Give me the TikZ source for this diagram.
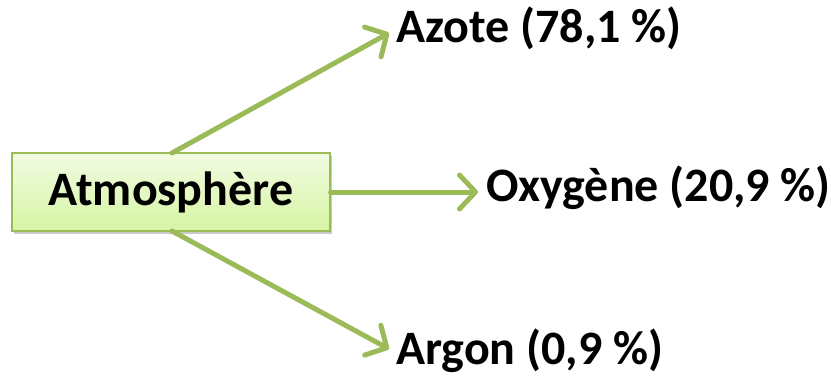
\documentclass[tikz,border=0pt]{standalone}
\usepackage{fontspec}
\setmainfont{Carlito}
\usetikzlibrary{arrows.meta,shadows}
\definecolor{olivegreen}{HTML}{9BBB59}
\definecolor{boxtop}{HTML}{F2FBE3}
\definecolor{boxbot}{HTML}{D5F5A3}
\tikzset{
  lbl/.style={font=\fontsize{48}{52}\selectfont\bfseries, inner sep=0pt, anchor=base west},
  arr/.style={draw=olivegreen, line width=5pt, line cap=round,
    -{Straight Barb[length=16pt,width=34pt,line cap=round,line join=round]}},
}
\begin{document}
\begin{tikzpicture}[x=1pt,y=-1pt]
\useasboundingbox (0,0) rectangle (831,381);
\node[draw=olivegreen, line width=1.2pt, top color=boxtop, bottom color=boxbot,
  minimum width=318pt, minimum height=78pt, inner sep=0pt,
  drop shadow={shadow xshift=2pt, shadow yshift=-3pt, opacity=0.35, fill=black!60}]
  (box) at (171,192) {};
\node[lbl, anchor=base] (atm) at (171,205) {Atmosphère};
\node[lbl] (azote) at (396,42) {Azote (78,1 \%)};
\node[lbl] (oxy) at (486,201) {Oxygène (20,9 \%)};
\node[lbl] (argon) at (396,364) {Argon (0,9 \%)};
\coordinate (t1) at (389,33);
\coordinate (t2) at (478,192);
\coordinate (t3) at (389,349);
\coordinate (s1) at (172,153);
\coordinate (s3) at (172,231);
\draw[arr] (s1) -- (t1);
\draw[arr] (box.east) -- (t2);
\draw[arr] (s3) -- (t3);
\end{tikzpicture}
\end{document}
